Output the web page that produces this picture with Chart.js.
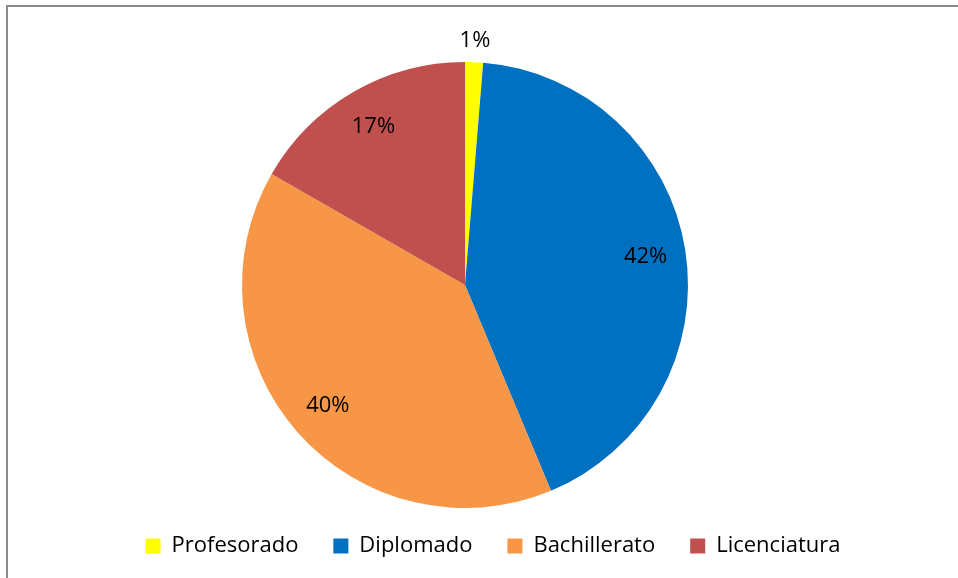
<!DOCTYPE html>
<html>
<head>
<meta charset="utf-8">
<script src="https://cdn.jsdelivr.net/npm/chart.js@4/dist/chart.umd.min.js"></script>
<style>
  html, body { margin: 0; padding: 0; background: #fff; overflow: hidden; }
  #frame {
    position: absolute; left: 6px; top: 5px; width: 1000px; height: 620px;
    border-left: 2px solid #8c8c8c; border-top: 2px solid #8c8c8c;
  }
  #wrap { position: absolute; left: 0; top: 0; width: 958px; height: 578px; }
</style>
</head>
<body>
<div id="frame"></div>
<div id="wrap"><canvas id="chart"></canvas></div>
<script>
    'use strict';

    var categories = ['Profesorado', 'Diplomado', 'Bachillerato', 'Licenciatura'];
    var values = [1.3, 42.4, 39.6, 16.7];
    var colors = ['#FFFF00', '#0070C0', '#F79646', '#C0504D'];

    // percentage labels, inside the slice or outside for tiny ones
    var pctLabels = {
        id: 'pctLabels',
        afterDatasetsDraw: function(chart) {
            var ctx = chart.ctx;
            var meta = chart.getDatasetMeta(0);
            var total = values.reduce(function(a, b) { return a + b; }, 0);
            ctx.save();
            ctx.font = '22px "Open Sans"';
            ctx.fillStyle = '#000';
            ctx.textAlign = 'center';
            ctx.textBaseline = 'middle';
            meta.data.forEach(function(arc, i) {
                var pct = values[i] / total * 100;
                var mid = (arc.startAngle + arc.endAngle) / 2;
                var r = pct < 5 ? arc.outerRadius + 21 : arc.outerRadius * 0.82;
                var x = arc.x + Math.cos(mid) * r;
                var y = arc.y + Math.sin(mid) * r;
                ctx.fillText(Math.round(pct) + '%', x, y);
            });
            ctx.restore();
        }
    };

    // nudge the legend to where it sits in the original
    var legendShift = {
        id: 'legendShift',
        afterLayout: function(chart) {
            var lg = chart.legend;
            lg.left += 28; lg.right += 28;
            lg.top -= 8; lg.bottom -= 8;
        }
    };

    new Chart(document.getElementById('chart'), {
        type: 'pie',
        data: {
            labels: categories,
            datasets: [{
                data: values,
                backgroundColor: colors,
                borderWidth: 0
            }]
        },
        options: {
            responsive: true,
            maintainAspectRatio: false,
            animation: false,
            layout: {
                padding: { top: 62, bottom: 3, left: 0, right: 28 }
            },
            plugins: {
                legend: {
                    position: 'bottom',
                    labels: {
                        boxWidth: 15,
                        boxHeight: 15,
                        padding: 35,
                        color: '#000',
                        font: { family: '"Open Sans"', size: 22 }
                    }
                },
                tooltip: { enabled: false }
            }
        },
        plugins: [pctLabels, legendShift]
    });
</script>
</body>
</html>
